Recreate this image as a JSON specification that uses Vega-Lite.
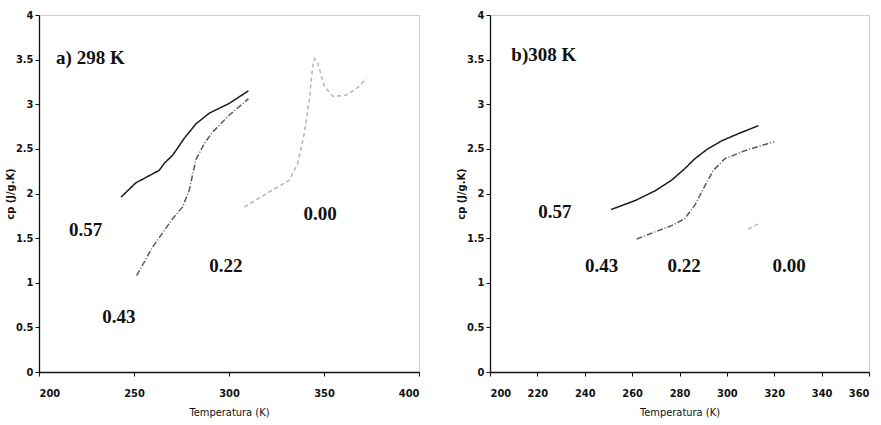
{
  "$schema": "https://vega.github.io/schema/vega-lite/v6.json",
  "padding": {"left": 3, "top": 8, "right": 0, "bottom": 0},
  "background": "white",
  "spacing": 34,
  "config": {
    "view": {"stroke": "#9a9a9a", "strokeDash": [1, 1], "strokeWidth": 1},
    "axis": {
      "grid": false,
      "domainColor": "#111",
      "domainWidth": 1.3,
      "tickColor": "#111",
      "tickSize": 4,
      "labelFont": "'DejaVu Sans Condensed', 'Liberation Sans', sans-serif",
      "labelFontSize": 11,
      "labelFontWeight": "bold",
      "labelColor": "#111",
      "titleFont": "'DejaVu Sans Condensed', 'Liberation Sans', sans-serif",
      "titleFontSize": 11,
      "titleFontWeight": "normal",
      "titleColor": "#111"
    },
    "axisX": {"labelPadding": 11, "titlePadding": 8},
    "axisY": {"labelPadding": 2, "minExtent": 22, "maxExtent": 22, "titlePadding": 2, "titleFontWeight": "bold"}
  },
  "datasets": {
    "a": [
      {"T": 243.2, "cp": 1.96, "x": "0.57"},
      {"T": 251, "cp": 2.12, "x": "0.57"},
      {"T": 263.3, "cp": 2.26, "x": "0.57"},
      {"T": 266, "cp": 2.34, "x": "0.57"},
      {"T": 270.4, "cp": 2.43, "x": "0.57"},
      {"T": 276.5, "cp": 2.62, "x": "0.57"},
      {"T": 282.6, "cp": 2.78, "x": "0.57"},
      {"T": 289.6, "cp": 2.9, "x": "0.57"},
      {"T": 300.2, "cp": 3.01, "x": "0.57"},
      {"T": 310.2, "cp": 3.15, "x": "0.57"},
      {"T": 251.4, "cp": 1.08, "x": "0.43"},
      {"T": 259.8, "cp": 1.4, "x": "0.43"},
      {"T": 270.4, "cp": 1.72, "x": "0.43"},
      {"T": 275.6, "cp": 1.85, "x": "0.43"},
      {"T": 279.1, "cp": 2.04, "x": "0.43"},
      {"T": 282.6, "cp": 2.38, "x": "0.43"},
      {"T": 287, "cp": 2.56, "x": "0.43"},
      {"T": 291.4, "cp": 2.69, "x": "0.43"},
      {"T": 300.2, "cp": 2.88, "x": "0.43"},
      {"T": 310.2, "cp": 3.06, "x": "0.43"},
      {"T": 308.1, "cp": 1.85, "x": "0.00"},
      {"T": 323, "cp": 2.04, "x": "0.00"},
      {"T": 331.8, "cp": 2.15, "x": "0.00"},
      {"T": 336.2, "cp": 2.34, "x": "0.00"},
      {"T": 339.6, "cp": 2.67, "x": "0.00"},
      {"T": 342.3, "cp": 3.05, "x": "0.00"},
      {"T": 344, "cp": 3.42, "x": "0.00"},
      {"T": 345, "cp": 3.51, "x": "0.00"},
      {"T": 346.7, "cp": 3.46, "x": "0.00"},
      {"T": 350.2, "cp": 3.2, "x": "0.00"},
      {"T": 354.6, "cp": 3.09, "x": "0.00"},
      {"T": 361.6, "cp": 3.1, "x": "0.00"},
      {"T": 368.6, "cp": 3.2, "x": "0.00"},
      {"T": 372.1, "cp": 3.29, "x": "0.00"}
    ],
    "b": [
      {"T": 251.1, "cp": 1.82, "x": "0.57"},
      {"T": 261.2, "cp": 1.92, "x": "0.57"},
      {"T": 269.7, "cp": 2.03, "x": "0.57"},
      {"T": 276.7, "cp": 2.15, "x": "0.57"},
      {"T": 282.3, "cp": 2.28, "x": "0.57"},
      {"T": 286.5, "cp": 2.39, "x": "0.57"},
      {"T": 291.4, "cp": 2.49, "x": "0.57"},
      {"T": 297.8, "cp": 2.59, "x": "0.57"},
      {"T": 304.8, "cp": 2.67, "x": "0.57"},
      {"T": 313.3, "cp": 2.76, "x": "0.57"},
      {"T": 261.9, "cp": 1.49, "x": "0.43"},
      {"T": 269.7, "cp": 1.57, "x": "0.43"},
      {"T": 276.7, "cp": 1.64, "x": "0.43"},
      {"T": 282.3, "cp": 1.72, "x": "0.43"},
      {"T": 286.5, "cp": 1.87, "x": "0.43"},
      {"T": 290.8, "cp": 2.09, "x": "0.43"},
      {"T": 294.3, "cp": 2.26, "x": "0.43"},
      {"T": 299.2, "cp": 2.39, "x": "0.43"},
      {"T": 307.6, "cp": 2.48, "x": "0.43"},
      {"T": 320, "cp": 2.58, "x": "0.43"},
      {"T": 309, "cp": 1.6, "x": "0.00"},
      {"T": 313.3, "cp": 1.66, "x": "0.00"}
    ],
    "la": [
      {"T": 224.5, "cp": 1.59, "label": "0.57"},
      {"T": 242, "cp": 0.62, "label": "0.43"},
      {"T": 298.4, "cp": 1.19, "label": "0.22"},
      {"T": 348, "cp": 1.77, "label": "0.00"}
    ],
    "lb": [
      {"T": 227.4, "cp": 1.79, "label": "0.57"},
      {"T": 247.1, "cp": 1.19, "label": "0.43"},
      {"T": 281.9, "cp": 1.19, "label": "0.22"},
      {"T": 326.3, "cp": 1.19, "label": "0.00"}
    ],
    "ta": [{"T": 209, "cp": 3.52, "label": "a) 298 K"}],
    "tb": [{"T": 209, "cp": 3.55, "label": "b)308 K"}]
  },
  "hconcat": [
    {
      "width": 380,
      "height": 357,
      "layer": [
        {
          "data": {"name": "a"},
          "mark": {"type": "line", "strokeWidth": 1.5},
          "encoding": {
            "x": {"field": "T", "type": "quantitative", "scale": {"domain": [200, 400], "nice": false}, "axis": {"values": [200, 250, 300, 350, 400], "title": "Temperatura (K)"}},
            "y": {"field": "cp", "type": "quantitative", "scale": {"domain": [0, 4], "nice": false}, "axis": {"values": [0, 0.5, 1, 1.5, 2, 2.5, 3, 3.5, 4], "labelExpr": "'' + datum.value", "title": "cp (J/g.K)"}},
            "color": {"field": "x", "type": "nominal", "legend": null, "scale": {"domain": ["0.57", "0.43", "0.00"], "range": ["#1a1a1a", "#5a5a5a", "#b5b5b5"]}},
            "strokeDash": {"field": "x", "type": "nominal", "legend": null, "scale": {"domain": ["0.57", "0.43", "0.00"], "range": [[1, 0], [6, 2, 1, 2], [4, 3]]}}
          }
        },
        {
          "data": {"name": "la"},
          "mark": {"type": "text", "font": "Liberation Serif", "fontWeight": "bold", "fontSize": 19, "align": "center", "baseline": "middle", "color": "#111"},
          "encoding": {
            "x": {"field": "T", "type": "quantitative"},
            "y": {"field": "cp", "type": "quantitative"},
            "text": {"field": "label"}
          }
        },
        {
          "data": {"name": "ta"},
          "mark": {"type": "text", "font": "Liberation Serif", "fontWeight": "bold", "fontSize": 19, "align": "left", "baseline": "middle", "color": "#111"},
          "encoding": {
            "x": {"field": "T", "type": "quantitative"},
            "y": {"field": "cp", "type": "quantitative"},
            "text": {"field": "label"}
          }
        }
      ]
    },
    {
      "width": 379,
      "height": 357,
      "layer": [
        {
          "data": {"name": "b"},
          "mark": {"type": "line", "strokeWidth": 1.5},
          "encoding": {
            "x": {"field": "T", "type": "quantitative", "scale": {"domain": [200, 360], "nice": false}, "axis": {"values": [200, 220, 240, 260, 280, 300, 320, 340, 360], "title": "Temperatura (K)"}},
            "y": {"field": "cp", "type": "quantitative", "scale": {"domain": [0, 4], "nice": false}, "axis": {"values": [0, 0.5, 1, 1.5, 2, 2.5, 3, 3.5, 4], "labelExpr": "'' + datum.value", "title": "cp (J/g.K)"}},
            "color": {"field": "x", "type": "nominal", "legend": null, "scale": {"domain": ["0.57", "0.43", "0.00"], "range": ["#1a1a1a", "#5a5a5a", "#c8c8c8"]}},
            "strokeDash": {"field": "x", "type": "nominal", "legend": null, "scale": {"domain": ["0.57", "0.43", "0.00"], "range": [[1, 0], [6, 2, 1, 2], [4, 3]]}}
          }
        },
        {
          "data": {"name": "lb"},
          "mark": {"type": "text", "font": "Liberation Serif", "fontWeight": "bold", "fontSize": 19, "align": "center", "baseline": "middle", "color": "#111"},
          "encoding": {
            "x": {"field": "T", "type": "quantitative"},
            "y": {"field": "cp", "type": "quantitative"},
            "text": {"field": "label"}
          }
        },
        {
          "data": {"name": "tb"},
          "mark": {"type": "text", "font": "Liberation Serif", "fontWeight": "bold", "fontSize": 19, "align": "left", "baseline": "middle", "color": "#111"},
          "encoding": {
            "x": {"field": "T", "type": "quantitative"},
            "y": {"field": "cp", "type": "quantitative"},
            "text": {"field": "label"}
          }
        }
      ]
    }
  ]
}
